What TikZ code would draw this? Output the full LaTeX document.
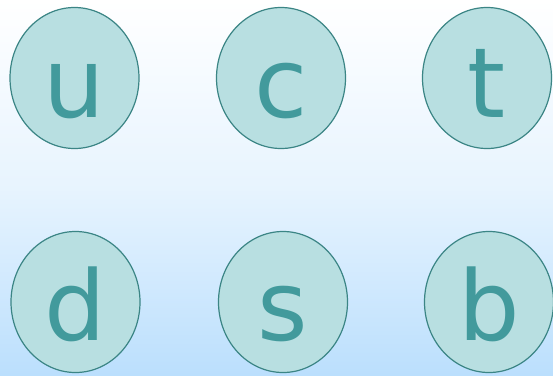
\documentclass[tikz,border=0pt]{standalone}
\usepackage{fontspec}
\setmainfont{DejaVu Sans}
\usetikzlibrary{shapes.geometric}
\definecolor{bgbot}{HTML}{BBDFFD}
\definecolor{qfill}{HTML}{B8DFE1}
\definecolor{qline}{HTML}{3B8585}
\definecolor{qtext}{HTML}{429A9C}
\begin{document}
\begin{tikzpicture}[x=1pt,y=-1pt,
  quark/.style={ellipse, draw=qline, fill=qfill, line width=1.2pt,
    minimum width=129pt, minimum height=141pt, inner sep=0pt},
  qlabel/.style={anchor=base, text=qtext, inner sep=0pt,
    font=\fontsize{97}{97}\selectfont}]
\shade[top color=white, bottom color=bgbot, middle color={white!65!bgbot}] (0,0) rectangle (553,375);
\useasboundingbox (0,0) rectangle (553,375);
\node[quark] (u) at (74.5,78) {};
\node[quark] (c) at (281,78) {};
\node[quark] (t) at (487,78) {};
\node[quark] (d) at (75.5,302) {};
\node[quark] (s) at (283,302) {};
\node[quark] (b) at (489,302) {};
\node[qlabel] (ul) at (74.5,117) {u};
\node[qlabel] (cl) at (281,117) {c};
\node[qlabel] (tl) at (487,117) {t};
\node[qlabel] (dl) at (75.5,340) {d};
\node[qlabel] (sl) at (283,340) {s};
\node[qlabel] (bl) at (489,340) {b};
\end{tikzpicture}
\end{document}
